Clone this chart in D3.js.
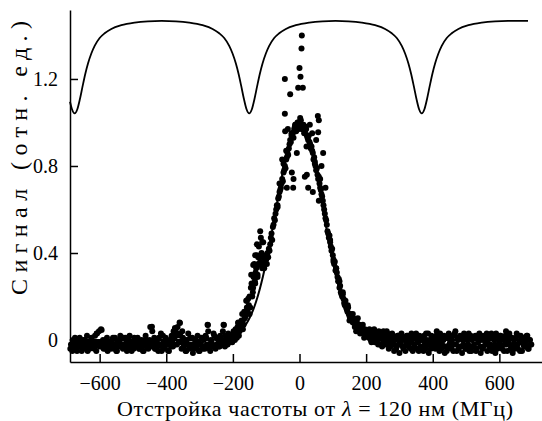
<!DOCTYPE html>
<html>
<head>
<meta charset="utf-8">
<script src="https://cdn.jsdelivr.net/npm/d3@7"></script>
<style>
  html, body { margin: 0; padding: 0; background: #fff; }
  svg { display: block; }
</style>
</head>
<body>
<svg id="chart" width="542" height="421"></svg>
<script>
// Detuning grid step (MHz) for each measured scan
const DETUNE_STEP = 4;

// Scan 1, left wing (starts at -688 MHz)
const wingLeftStart = -688;
const wingLeft = [
  -0.04, -0.02, 0.00, -0.03, -0.01, -0.05, -0.02, 0.01, -0.03, -0.02,
  -0.04, 0.00, -0.02, -0.05, -0.01, -0.03, 0.01, -0.02, -0.04, -0.01,
  0.03, -0.02, -0.03, 0.05, -0.01, -0.04, -0.02, 0.00, -0.05, -0.02,
  -0.01, -0.03, 0.01, -0.04, -0.02, -0.05, -0.01, 0.00, -0.03, -0.02,
  0.01, -0.03, -0.01, -0.04, 0.00, -0.02, -0.05, -0.01, 0.01, -0.03,
  -0.02, 0.00, -0.04, -0.01, -0.03, -0.05, -0.02, 0.00, -0.03, -0.01,
  0.06, -0.03, -0.02, 0.01, -0.04, -0.01, -0.05, -0.02, 0.03, -0.03,
  -0.01, -0.04, 0.00, -0.02, -0.05, -0.01, 0.02, -0.03, 0.01, 0.05,
  -0.02, 0.03, 0.08, -0.01, 0.04, -0.03, 0.00, -0.05, -0.02, -0.04,
  0.01, -0.03, -0.06, -0.02, 0.00, -0.04, -0.01, -0.05, -0.02, -0.03,
  0.00, -0.04, 0.01, 0.07, -0.02, -0.05, -0.01, -0.03, 0.02, -0.04,
  -0.02, 0.00, -0.03, 0.01, -0.01, 0.07, -0.03, 0.00, -0.02, 0.01,
  -0.01, 0.02, 0.00
];

// Scan 2, left wing (starts at -686 MHz)
const wingLeft2Start = -686;
const wingLeft2 = [
  -0.02, -0.05, -0.01, 0.01, -0.04, -0.02, 0.00, -0.03, -0.05, 0.00,
  -0.01, -0.03, 0.02, -0.02, -0.04, 0.00, -0.03, -0.01, 0.02, -0.05,
  -0.02, 0.04, -0.01, -0.03, 0.00, -0.02, -0.04, 0.01, -0.01, -0.03,
  -0.04, 0.00, -0.02, 0.01, -0.05, -0.01, -0.03, 0.02, -0.02, -0.04,
  -0.03, 0.01, -0.05, -0.02, 0.02, -0.03, -0.01, -0.04, 0.00, -0.02,
  0.01, -0.04, -0.02, 0.00, -0.05, -0.01, 0.02, -0.03, -0.04, 0.00,
  -0.02, 0.04, -0.01, -0.04, 0.00, -0.03, 0.01, -0.02, -0.05, 0.02,
  -0.03, 0.01, -0.02, -0.05, 0.00, -0.03, -0.01, 0.04, -0.02, 0.02,
  0.06, -0.01, 0.02, -0.04, 0.01, -0.02, -0.05, 0.00, 0.03, -0.03,
  -0.02, 0.01, -0.04, 0.00, -0.03, 0.02, -0.05, -0.02, 0.01, -0.04,
  -0.03, 0.02, -0.02, 0.04, -0.04, 0.00, -0.02, 0.03, -0.03, 0.01,
  0.01, -0.03, 0.02, -0.02, 0.04, -0.01, 0.02, -0.02, 0.03, 0.00,
  0.02, -0.01, 0.04
];

// Scan 1, resonance region (starts at -196 MHz)
const peakStart = -196;
const peak = [
  0.02, 0.05, 0.01, 0.08, 0.04, 0.06, 0.12, 0.07, 0.10, 0.18,
  0.14, 0.16, 0.15, 0.26, 0.22, 0.35, 0.31, 0.39, 0.35, 0.38,
  0.47, 0.45, 0.38, 0.36, 0.37, 0.40, 0.42, 0.44, 0.49, 0.52,
  0.56, 0.58, 0.62, 0.65, 0.68, 0.70, 0.74, 0.77, 0.80, 0.83,
  0.86, 0.88, 0.92, 0.94, 0.95, 0.97, 0.99, 0.98, 1.00, 0.99,
  1.01, 0.98, 0.99, 0.96, 0.97, 0.93, 0.94, 0.90, 0.89, 0.86,
  0.84, 0.80, 0.79, 0.74, 0.72, 0.69, 0.66, 0.62, 0.58, 0.55,
  0.50, 0.47, 0.45, 0.41, 0.39, 0.35, 0.32, 0.31, 0.27, 0.24,
  0.22, 0.20, 0.19, 0.16, 0.15, 0.13, 0.12, 0.10, 0.11, 0.08,
  0.09, 0.07, 0.08, 0.05, 0.07, 0.04, 0.06, 0.03, 0.05, 0.02
];

// Scan 2, resonance region (starts at -194 MHz)
const peak2Start = -194;
const peak2 = [
  0.00, 0.03, 0.06, 0.02, 0.07, 0.09, 0.05, 0.13, 0.11, 0.15,
  0.19, 0.12, 0.24, 0.20, 0.29, 0.27, 0.33, 0.30, 0.43, 0.36,
  0.40, 0.34, 0.33, 0.39, 0.35, 0.38, 0.41, 0.47, 0.46, 0.53,
  0.55, 0.60, 0.61, 0.66, 0.69, 0.72, 0.73, 0.78, 0.79, 0.84,
  0.85, 0.90, 0.91, 0.95, 0.93, 0.98, 0.96, 1.00, 0.97, 1.02,
  0.99, 0.97, 0.95, 0.98, 0.94, 0.92, 0.91, 0.88, 0.87, 0.83,
  0.82, 0.78, 0.76, 0.75, 0.70, 0.67, 0.64, 0.60, 0.56, 0.53,
  0.49, 0.48, 0.43, 0.42, 0.37, 0.36, 0.33, 0.29, 0.28, 0.25,
  0.21, 0.22, 0.17, 0.18, 0.14, 0.15, 0.11, 0.12, 0.09, 0.10,
  0.06, 0.09, 0.05, 0.07, 0.03, 0.06, 0.04, 0.01, 0.03, 0.04
];

// Scan 1, right wing (starts at 204 MHz)
const wingRightStart = 204;
const wingRight = [
  0.04, 0.01, 0.03, -0.01, 0.02, 0.05, 0.00, 0.03, -0.02, 0.01,
  0.02, -0.03, 0.04, 0.00, -0.02, 0.03, -0.04, 0.01, -0.01, 0.02,
  -0.05, 0.00, -0.03, 0.02, -0.06, -0.01, 0.01, -0.04, 0.00, -0.02,
  0.02, -0.03, -0.01, 0.03, -0.05, -0.02, 0.01, -0.04, -0.01, 0.02,
  -0.03, 0.00, -0.05, -0.01, 0.03, -0.02, -0.06, 0.00, 0.02, -0.03,
  0.01, -0.04, 0.04, -0.01, -0.05, 0.02, -0.02, 0.00, -0.06, 0.01,
  -0.03, 0.03, -0.01, -0.04, 0.02, -0.02, 0.04, -0.05, 0.00, -0.03,
  0.01, -0.06, -0.02, 0.02, -0.04, 0.00, 0.03, -0.03, -0.05, 0.01,
  -0.02, 0.02, -0.04, -0.01, 0.03, -0.06, 0.00, -0.03, 0.02, -0.01,
  -0.05, 0.01, -0.02, 0.03, -0.04, 0.00, -0.06, 0.02, -0.03, -0.01,
  0.02, -0.04, 0.00, -0.02, 0.04, -0.05, -0.01, 0.01, -0.03, -0.06,
  0.00, -0.02, 0.03, -0.04, -0.01, 0.02, -0.05, -0.02, 0.01, -0.03,
  0.02, -0.04, 0.00, -0.02
];

// Scan 2, right wing (starts at 206 MHz)
const wingRight2Start = 206;
const wingRight2 = [
  0.02, 0.05, 0.00, 0.03, 0.04, -0.01, 0.02, 0.00, 0.04, -0.02,
  0.03, 0.00, -0.02, 0.02, 0.04, -0.01, 0.01, -0.03, 0.03, -0.02,
  0.01, -0.04, 0.02, -0.02, 0.00, 0.03, -0.03, 0.01, -0.05, 0.02,
  -0.01, 0.01, -0.04, 0.00, 0.02, -0.03, 0.03, -0.01, -0.05, 0.00,
  0.01, -0.03, 0.02, -0.04, 0.00, 0.03, -0.02, -0.04, 0.01, -0.01,
  -0.02, 0.02, -0.03, 0.01, 0.03, -0.04, 0.00, 0.02, -0.03, -0.05,
  0.01, -0.02, 0.02, 0.00, -0.05, 0.03, -0.02, 0.01, -0.04, 0.02,
  -0.03, 0.00, 0.03, -0.04, 0.01, -0.02, -0.05, 0.02, 0.00, -0.03,
  0.01, -0.05, 0.02, 0.00, -0.03, 0.02, -0.04, 0.01, -0.02, 0.03,
  0.00, -0.03, 0.02, -0.05, 0.01, -0.02, 0.03, -0.04, 0.00, 0.02,
  -0.03, 0.01, -0.05, 0.02, -0.02, 0.00, 0.03, -0.04, 0.01, -0.02,
  -0.04, 0.01, -0.02, 0.02, -0.05, 0.00, 0.01, -0.03, -0.01, 0.02,
  -0.04, 0.00, -0.02
];

// Additional scattered readings around the resonance
const scatterX = [
  7, 6, 0, 3, -44, -4, 10, -28, -44, 55, 58,
  -43, -13, 7, 31, 56, 15, -24, -8, 21, 71, -23, -18, 16, -38, -19, 26, 40,
  -48, 62, 46, 22, -52, 50, 38, -35, 66, 78, -60, -66, 58, -40,
  -118, -109, -133, -124, -103, -139, -118, -133, -139, -158, -150, -145, -126,
  -112, -128, -170, -178, -160,
  92, 110, 130, 145, 160, 175, 190, 150, 170, 120, 102,
  -609, -594, -443, -374, -359, -275, -227, -184
];
const scatterY = [
  1.40, 1.34, 1.25, 1.21, 1.20, 1.16, 1.16, 1.13, 1.04, 1.03, 1.01,
  0.96, 0.99, 0.97, 0.99, 0.955, 0.96, 0.95, 0.86, 0.89, 0.86, 0.77, 0.74, 0.75, 0.70, 0.70, 0.70, 0.68,
  0.81, 0.74, 0.81, 0.76, 0.83, 0.92, 0.95, 0.97, 0.80, 0.70, 0.72, 0.62, 0.64, 0.87,
  0.50, 0.45, 0.39, 0.38, 0.38, 0.345, 0.345, 0.26, 0.24, 0.18, 0.20, 0.30, 0.29,
  0.33, 0.44, 0.09, 0.06, 0.12,
  0.46, 0.33, 0.21, 0.16, 0.12, 0.10, 0.07, 0.09, 0.04, 0.27, 0.36,
  0.03, 0.046, 0.061, 0.055, 0.078, 0.069, 0.069, 0.078
];

// Gaussian fit of the resonance
const fitX = [-690, -300, -260, -240, -220, -200, -190, -180, -170, -160, -150, -140, -130, -120, -110,
  -100, -90, -80, -70, -60, -50, -40, -30, -20, -10, 0, 10, 20, 30, 40, 50, 60, 70, 80, 90, 100,
  110, 120, 130, 140, 150, 160, 170, 180, 190, 200, 220, 240, 260, 300, 690];
const fitY = [0, 0.0001, 0.0010, 0.0028, 0.0072, 0.0169, 0.0251, 0.0367, 0.0524, 0.0734, 0.101, 0.135, 0.178, 0.230, 0.291,
  0.360, 0.438, 0.520, 0.607, 0.693, 0.775, 0.849, 0.912, 0.960, 0.990, 1.000, 0.990, 0.960, 0.912, 0.849, 0.775, 0.693, 0.607, 0.520, 0.438, 0.360,
  0.291, 0.230, 0.178, 0.135, 0.101, 0.0734, 0.0524, 0.0367, 0.0251, 0.0169, 0.0072, 0.0028, 0.0010, 0.0001, 0];

// Reference interferometer transmission (offset trace above the signal)
const etalonX = [-689, -683, -675, -667, -659, -651, -643, -635, -625, -615, -600, -585, -565, -535, -495, -455, -414,
  -371, -331, -291, -261, -241, -226, -211, -201, -191, -183, -175, -167, -159, -151, -143, -135, -127, -119, -111,
  -101, -91, -76, -61, -41, -11, 29, 69, 108,
  147, 187, 227, 257, 277, 292, 307, 317, 327, 335, 343, 351, 359, 367, 375, 383, 391, 399, 407,
  417, 427, 442, 457, 477, 507, 547, 587, 626, 686];
const etalonY = [1.095, 1.061, 1.042, 1.061, 1.109, 1.168, 1.224, 1.271, 1.317, 1.352, 1.388, 1.410, 1.430, 1.447, 1.459, 1.465, 1.467,
  1.465, 1.459, 1.447, 1.430, 1.410, 1.388, 1.352, 1.317, 1.271, 1.224, 1.168, 1.109, 1.061, 1.042, 1.061, 1.109, 1.168, 1.224, 1.271,
  1.317, 1.352, 1.388, 1.410, 1.430, 1.447, 1.459, 1.465, 1.467,
  1.465, 1.459, 1.447, 1.430, 1.410, 1.388, 1.352, 1.317, 1.271, 1.224, 1.168, 1.109, 1.061, 1.042, 1.061, 1.109, 1.168, 1.224, 1.271,
  1.317, 1.352, 1.388, 1.410, 1.430, 1.447, 1.459, 1.465, 1.467, 1.467];

// Axis ticks
const xTicks = [-600, -400, -200, 0, 200, 400, 600];
const yTicks = [0, 0.4, 0.8, 1.2];
const yTickLabels = ["0", "0.4", "0.8", "1.2"];

const SERIF = "'Liberation Serif'";

const svg = d3.select("#chart");

const x = d3.scaleLinear().domain([-689, 728]).range([70, 542]);
const y = d3.scaleLinear().domain([-0.101, 1.517]).range([362, 10]);

const gridPoints = (start, values) => values.map((v, i) => ({ x: start + i * DETUNE_STEP, y: v }));
const measured = [
  ...gridPoints(wingLeftStart, wingLeft),
  ...gridPoints(wingLeft2Start, wingLeft2),
  ...gridPoints(peakStart, peak),
  ...gridPoints(peak2Start, peak2),
  ...gridPoints(wingRightStart, wingRight),
  ...gridPoints(wingRight2Start, wingRight2),
  ...scatterX.map((d, i) => ({ x: d, y: scatterY[i] }))
];

// Measured points
svg.append("g")
  .selectAll("circle")
  .data(measured)
  .join("circle")
  .attr("cx", d => x(d.x))
  .attr("cy", d => y(d.y))
  .attr("r", 3)
  .attr("fill", "#000");

// Gaussian fit
svg.append("path")
  .datum(fitX.map((d, i) => [d, fitY[i]]))
  .attr("fill", "none")
  .attr("stroke", "#000")
  .attr("stroke-width", 2)
  .attr("d", d3.line().x(d => x(d[0])).y(d => y(d[1])).curve(d3.curveMonotoneX));

// Interferometer trace
svg.append("path")
  .datum(etalonX.map((d, i) => [d, etalonY[i]]))
  .attr("fill", "none")
  .attr("stroke", "#000")
  .attr("stroke-width", 1.8)
  .attr("d", d3.line().x(d => x(d[0])).y(d => y(d[1])).curve(d3.curveMonotoneX));

// Axes
const xAxis = svg.append("g")
  .attr("transform", `translate(0,${y.range()[0]})`)
  .call(d3.axisBottom(x).tickValues(xTicks).tickSizeInner(-8).tickSizeOuter(0).tickPadding(14));
const yAxis = svg.append("g")
  .attr("transform", `translate(${x.range()[0]},0)`)
  .call(d3.axisLeft(y).tickValues(yTicks).tickFormat((d, i) => yTickLabels[i]).tickSizeInner(-8).tickSizeOuter(0).tickPadding(12));

[xAxis, yAxis].forEach(g => {
  g.attr("font-family", null).attr("font-size", null);
  g.select(".domain").attr("stroke", "#000").attr("stroke-width", 1.5);
  g.selectAll(".tick line").attr("stroke", "#000").attr("stroke-width", 1.5);
  g.selectAll(".tick text")
    .style("font-family", SERIF)
    .style("font-size", "20px")
    .attr("fill", "#000");
});

// Axis titles
const xTitle = svg.append("text")
  .attr("x", 315)
  .attr("y", 416)
  .attr("text-anchor", "middle")
  .style("font-family", SERIF)
  .style("font-size", "22px")
  .attr("textLength", 396)
  .attr("lengthAdjust", "spacing");
xTitle.append("tspan").text("Отстройка частоты от ");
xTitle.append("tspan").style("font-style", "italic").text("λ");
xTitle.append("tspan").text(" = 120 нм (МГц)");

svg.append("text")
  .attr("transform", "translate(27,158) rotate(-90)")
  .attr("text-anchor", "middle")
  .style("font-family", SERIF)
  .style("font-size", "24px")
  .attr("textLength", 274)
  .attr("lengthAdjust", "spacing")
  .text("Сигнал (отн. ед.)");
</script>
</body>
</html>
